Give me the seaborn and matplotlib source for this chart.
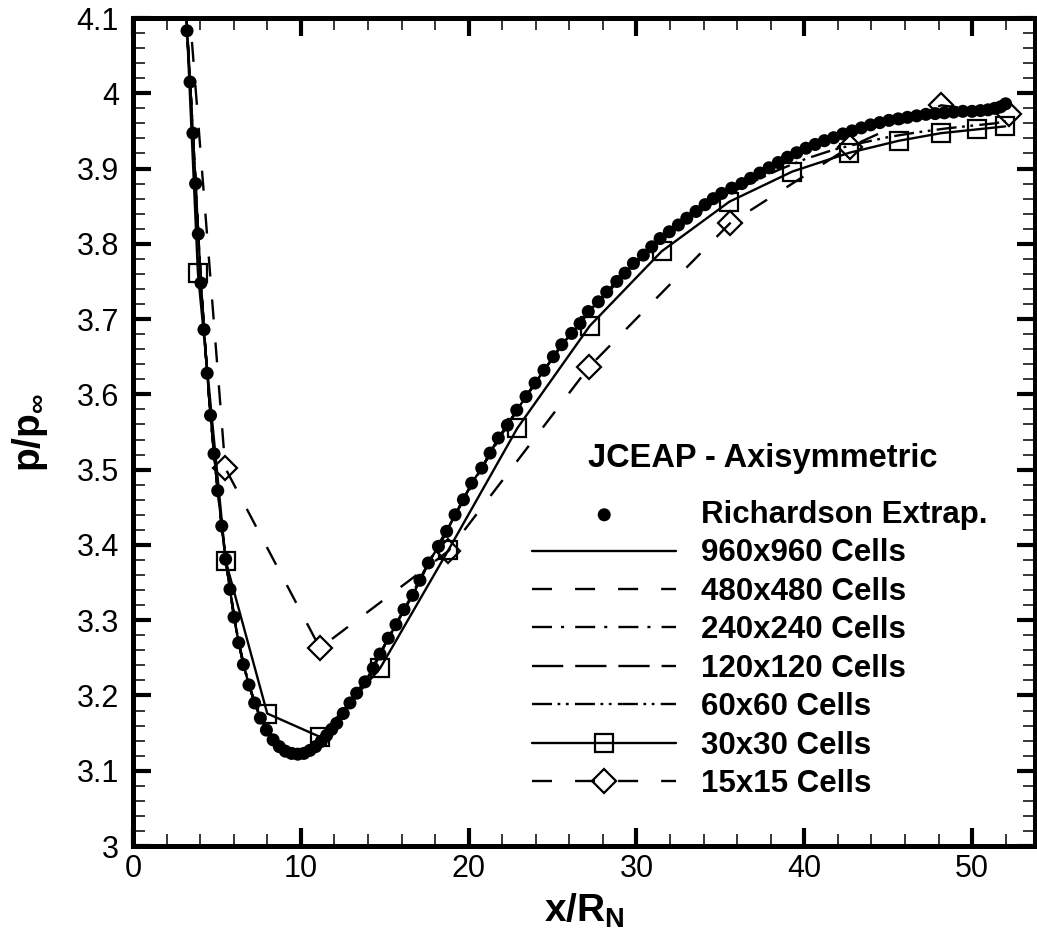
import matplotlib
matplotlib.use("Agg")
import matplotlib.pyplot as plt
from matplotlib.ticker import MultipleLocator
import seaborn as sns

# ---------------- data ----------------
x_rich = [3.05, 3.22, 3.40, 3.57, 3.73, 3.89, 4.05, 4.23, 4.42, 4.62, 4.83, 5.05, 5.29, 5.52, 5.78,
          6.02, 6.30, 6.58, 6.91, 7.25, 7.59, 7.95, 8.35, 8.72, 9.08, 9.45, 9.82, 10.18, 10.54,
          10.88, 11.22, 11.54, 11.84, 12.14, 12.53, 12.93, 13.33, 13.82, 14.32, 14.72, 15.21,
          15.67, 16.15, 16.67, 17.10, 17.60, 18.20, 18.69, 19.19, 19.69, 20.18, 20.78, 21.28,
          21.77, 22.31, 22.87, 23.42, 23.96, 24.49, 25.05, 25.55, 26.14, 26.64, 27.13, 27.73,
          28.23, 28.83, 29.32, 29.82, 30.41, 30.91, 31.41, 31.96, 32.50, 33.00, 33.55, 34.09,
          34.58, 35.08, 35.68, 36.28, 36.80, 37.35, 37.90, 38.45, 39.00, 39.55, 40.10, 40.65,
          41.20, 41.75, 42.30, 42.85, 43.40, 43.95, 44.50, 45.05, 45.60, 46.15, 46.70, 47.25,
          47.80, 48.35, 48.90, 49.45, 50.00, 50.50, 50.95, 51.35, 51.70, 52.00]
p_rich = [4.160, 4.083, 4.015, 3.947, 3.880, 3.813, 3.748, 3.686, 3.628, 3.572, 3.521, 3.472, 3.425,
          3.381, 3.341, 3.304, 3.270, 3.241, 3.214, 3.190, 3.170, 3.154, 3.141, 3.132, 3.126,
          3.123, 3.122, 3.123, 3.127, 3.132, 3.139, 3.147, 3.155, 3.163, 3.176, 3.190, 3.203,
          3.218, 3.236, 3.255, 3.276, 3.294, 3.314, 3.333, 3.353, 3.376, 3.398, 3.418, 3.440,
          3.460, 3.482, 3.502, 3.522, 3.542, 3.559, 3.579, 3.597, 3.615, 3.632, 3.650, 3.666,
          3.681, 3.694, 3.710, 3.723, 3.736, 3.750, 3.761, 3.774, 3.785, 3.796, 3.807, 3.816,
          3.825, 3.834, 3.843, 3.852, 3.860, 3.867, 3.874, 3.880, 3.887, 3.894, 3.901, 3.908,
          3.915, 3.921, 3.927, 3.932, 3.937, 3.941, 3.946, 3.950, 3.954, 3.958, 3.961, 3.964,
          3.966, 3.968, 3.970, 3.972, 3.973, 3.974, 3.975, 3.976, 3.976, 3.977, 3.978, 3.980,
          3.982, 3.986]

x_60 = [3.05, 3.40, 3.73, 4.05, 4.42, 4.83, 5.29, 5.78, 6.30, 6.91, 7.59, 8.35, 9.08, 9.82, 10.54,
        11.22, 12.14, 13.33, 14.72, 16.15, 17.60, 19.19, 20.78, 22.31, 23.96, 25.55, 27.13, 28.83,
        30.41, 31.96, 33.55, 35.08, 36.80, 38.45, 40.10, 41.75, 43.40, 45.05, 46.70, 48.35, 50.00,
        51.35, 52.00]
p_60 = [4.160, 4.015, 3.880, 3.748, 3.628, 3.521, 3.425, 3.341, 3.270, 3.214, 3.170, 3.141, 3.126,
        3.122, 3.127, 3.139, 3.163, 3.203, 3.255, 3.314, 3.376, 3.440, 3.502, 3.559, 3.615, 3.665,
        3.708, 3.748, 3.783, 3.813, 3.839, 3.862, 3.881, 3.898, 3.913, 3.925, 3.934, 3.942, 3.948,
        3.953, 3.957, 3.960, 3.963]

x_30 = [2.60, 3.87, 5.52, 8.00, 11.14, 14.72, 18.79, 22.90, 27.22, 31.50, 35.54, 39.29, 42.69,
        45.65, 48.15, 50.28, 51.97]
p_30 = [4.390, 3.761, 3.379, 3.176, 3.145, 3.236, 3.393, 3.555, 3.691, 3.790, 3.856, 3.896, 3.921,
        3.937, 3.947, 3.952, 3.956]

x_15 = [2.35, 5.50, 11.14, 18.80, 27.20, 35.56, 42.73, 48.15, 52.22]
p_15 = [4.400, 3.502, 3.263, 3.392, 3.637, 3.827, 3.929, 3.984, 3.973]

legend_title = "JCEAP - Axisymmetric"
labels = ["Richardson Extrap.", "960x960 Cells", "480x480 Cells", "240x240 Cells",
          "120x120 Cells", "60x60 Cells", "30x30 Cells", "15x15 Cells"]
x_ticks = [0, 10, 20, 30, 40, 50]
y_ticks = [3, 3.1, 3.2, 3.3, 3.4, 3.5, 3.6, 3.7, 3.8, 3.9, 4, 4.1]
y_ticklabels = ["3", "3.1", "3.2", "3.3", "3.4", "3.5", "3.6", "3.7", "3.8", "3.9", "4", "4.1"]

# ---------------- style ----------------
sns.set_theme(style="white")
plt.rcParams["font.family"] = ["Liberation Sans", "DejaVu Sans"]
plt.rcParams["mathtext.fontset"] = "custom"
plt.rcParams["mathtext.rm"] = "Liberation Sans"
plt.rcParams["mathtext.bf"] = "Liberation Sans:bold"
plt.rcParams["lines.scale_dashes"] = False
plt.rcParams["text.color"] = "black"
plt.rcParams["axes.labelcolor"] = "black"
plt.rcParams["xtick.color"] = "black"
plt.rcParams["ytick.color"] = "black"

W, H = 1037, 933
fig = plt.figure(figsize=(W / 100, H / 100), dpi=100)
ax = fig.add_axes([133 / W, 1 - 846 / H, (1035 - 133) / W, (846 - 18) / H])

lw = 1.7
common = dict(ax=ax, color="black", estimator=None, sort=False, legend=False)

sns.scatterplot(x=x_rich, y=p_rich, ax=ax, color="black", s=88, edgecolor="none",
                label=labels[0], zorder=3, legend=False)
sns.lineplot(x=x_rich, y=p_rich, linewidth=lw, linestyle="-", label=labels[1], **common)
sns.lineplot(x=x_rich, y=p_rich, linewidth=lw, linestyle=(0, (14.4, 16.6)), label=labels[2], **common)
sns.lineplot(x=x_rich, y=p_rich, linewidth=lw, linestyle=(0, (14.4, 6.5, 2.2, 8.0)), label=labels[3], **common)
sns.lineplot(x=x_rich, y=p_rich, linewidth=lw, linestyle=(0, (22.5, 8.6)), label=labels[4], **common)
sns.lineplot(x=x_60, y=p_60, linewidth=lw, linestyle=(0, (14.4, 4.0, 2.0, 4.0, 2.0, 4.5)), label=labels[5], **common)
sns.lineplot(x=x_30, y=p_30, linewidth=lw, linestyle="-", marker="s", markersize=12.5,
             markerfacecolor="none", markeredgecolor="black", markeredgewidth=1.6,
             label=labels[6], **common)
sns.lineplot(x=x_15, y=p_15, linewidth=lw, linestyle=(0, (14.4, 16.6)), marker="D", markersize=12,
             markerfacecolor="none", markeredgecolor="black", markeredgewidth=1.6,
             label=labels[7], **common)

ax.set_xlim(0, 53.75)
ax.set_ylim(3, 4.1)
ax.set_xticks(x_ticks)
ax.set_xticklabels([str(v) for v in x_ticks])
ax.set_yticks(y_ticks)
ax.set_yticklabels(y_ticklabels)
ax.xaxis.set_minor_locator(MultipleLocator(2))
ax.yaxis.set_minor_locator(MultipleLocator(0.02))

for s in ax.spines.values():
    s.set_linewidth(3.6)
    s.set_color("black")
    s.set_visible(True)

ax.tick_params(which="major", direction="in", length=13, width=3, color="black",
               top=True, right=True, bottom=True, left=True, labelsize=22, labelcolor="black")
ax.tick_params(which="minor", direction="in", length=8.5, width=1.1, color="black",
               top=True, right=True, bottom=True, left=True)
ax.tick_params(axis="y", which="major", pad=10)
ax.tick_params(axis="x", which="major", pad=6)
ax.grid(False)

ax.set_xlabel(r"$\mathbf{x/R_N}$", fontsize=28, labelpad=5)
ax.set_ylabel(r"$\mathbf{p/p_{\infty}}$", fontsize=28, labelpad=19)

handles, labs = ax.get_legend_handles_labels()
order = [labs.index(l) for l in labels]
fs = 22.5
leg = ax.legend([handles[i] for i in order], [labs[i] for i in order],
                loc="upper left",
                bbox_to_anchor=(532 / W, 1 - 500 / H), bbox_transform=fig.transFigure,
                frameon=False, borderpad=0, borderaxespad=0,
                prop={"weight": "bold", "size": fs},
                handlelength=104 / fs, handletextpad=18 / fs, labelspacing=0.27,
                numpoints=1, scatterpoints=1)

fig.text(763 / W, 1 - 459 / H, legend_title, ha="center", va="center",
         fontsize=23.5, fontweight="bold", color="black")

fig.savefig("out.png", dpi=100)
